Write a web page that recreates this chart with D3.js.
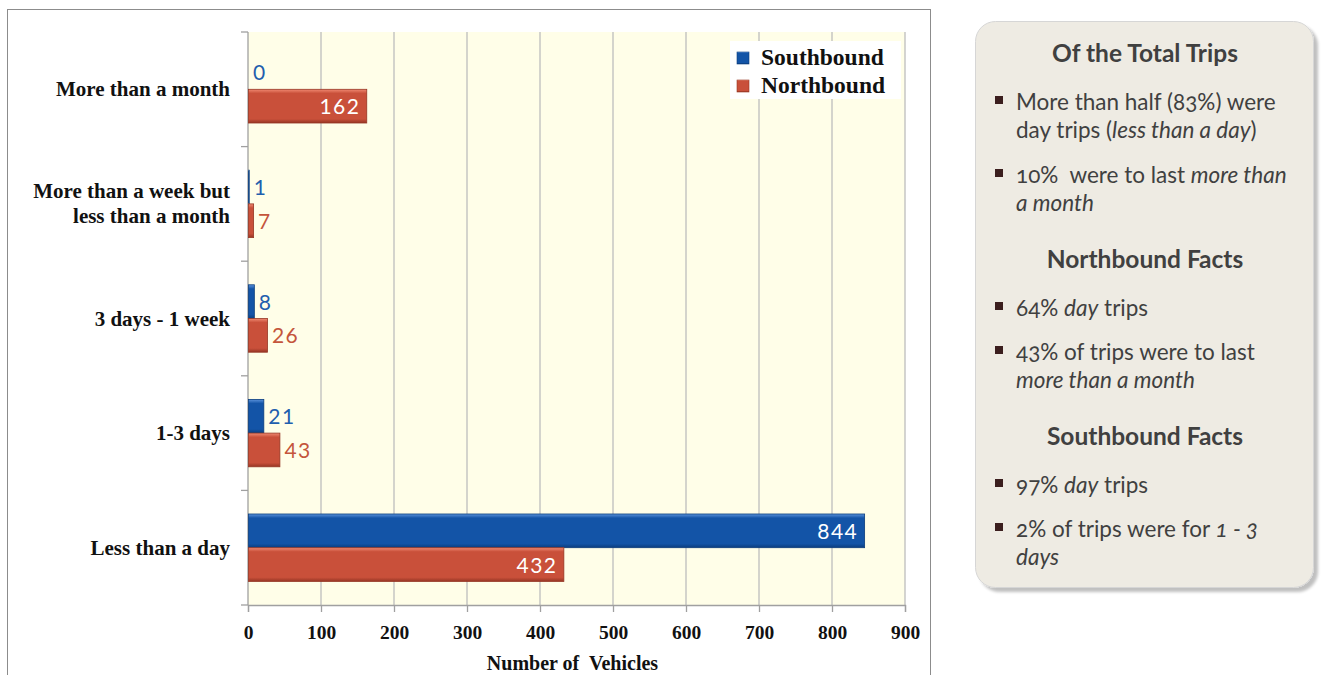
<!DOCTYPE html>
<html><head><meta charset="utf-8">
<script src="https://cdn.jsdelivr.net/npm/d3@7"></script>
<style>
body{margin:0;background:#fff;}
svg{display:block;}
</style></head>
<body>
<svg id="c" width="1326" height="675"></svg>
<script>
const categories = ["More than a month","More than a week but less than a month","3 days - 1 week","1-3 days","Less than a day"];
const categoryLines = [["More than a month"],["More than a week but","less than a month"],["3 days - 1 week"],["1-3 days"],["Less than a day"]];
const seriesNames = ["Southbound","Northbound"];
const southbound = [0,1,8,21,844];
const northbound = [162,7,26,43,432];
const xTicks = [0,100,200,300,400,500,600,700,800,900];
const axisTitle = "Number of  Vehicles";

const panelHeads = ["Of the Total Trips","Northbound Facts","Southbound Facts"];

const svg = d3.select("#c");
const defs = svg.append("defs");
const colors = {
  Southbound:{hi:"#5b93dc",main:"#1354a7",dark:"#0b3d7d",text:"#1f5fae"},
  Northbound:{hi:"#f08a72",main:"#c9503a",dark:"#963624",text:"#c4553b"}
};
seriesNames.forEach(s=>{
  const g = defs.append("linearGradient").attr("id","g"+s).attr("x1",0).attr("y1",0).attr("x2",0).attr("y2",1);
  g.append("stop").attr("offset","0%").attr("stop-color",colors[s].hi);
  g.append("stop").attr("offset","12%").attr("stop-color",colors[s].main);
  g.append("stop").attr("offset","88%").attr("stop-color",colors[s].main);
  g.append("stop").attr("offset","100%").attr("stop-color",colors[s].dark);
});
const sh = defs.append("filter").attr("id","psh").attr("x","-10%").attr("y","-10%").attr("width","130%").attr("height","130%");
sh.append("feGaussianBlur").attr("in","SourceAlpha").attr("stdDeviation",1.5);
sh.append("feOffset").attr("dx",4).attr("dy",4).attr("result","o");
sh.append("feComponentTransfer").append("feFuncA").attr("type","linear").attr("slope",0.25);
const mg = sh.append("feMerge"); mg.append("feMergeNode"); mg.append("feMergeNode").attr("in","SourceGraphic");

// outer chart frame
svg.append("rect").attr("x",7.5).attr("y",9.5).attr("width",923).attr("height",700)
  .attr("fill","#fff").attr("stroke","#8c8c8c").attr("stroke-width",1);

const x = d3.scaleLinear().domain([0,900]).range([248,905]);
const y = d3.scaleBand().domain(categories).range([32,605]).padding(0);
const ys = d3.scaleBand().domain(seriesNames).range([0,y.bandwidth()]).paddingInner(0).paddingOuter(0.7);

// plot background
svg.append("rect").attr("x",x(0)).attr("y",32).attr("width",x(900)-x(0)).attr("height",605-32).attr("fill","#fffee8");

// gridlines
svg.append("g").selectAll("line").data(xTicks.slice(1)).join("line")
  .attr("x1",d=>x(d)).attr("x2",d=>x(d)).attr("y1",32).attr("y2",605)
  .attr("stroke","#bdbdbd").attr("stroke-width",1.3);

// x axis
const xa = svg.append("g").attr("transform","translate(0,605)")
  .call(d3.axisBottom(x).tickValues(xTicks).tickSize(7).tickPadding(13));
xa.select(".domain").attr("stroke","#a0a0a0").attr("stroke-width",1.3);
xa.selectAll(".tick line").attr("stroke","#a0a0a0").attr("stroke-width",1.3);
xa.selectAll(".tick text").attr("font-family","'Liberation Serif',serif").attr("font-weight","bold")
  .attr("font-size",19.5).attr("fill","#111");

// y axis line and ticks at band edges
svg.append("line").attr("x1",x(0)).attr("x2",x(0)).attr("y1",32).attr("y2",605).attr("stroke","#a0a0a0").attr("stroke-width",1.3);
const edges = categories.map(c=>y(c)).concat([y(categories[categories.length-1])+y.bandwidth()]);
svg.append("g").selectAll("line").data(edges).join("line")
  .attr("x1",x(0)-7).attr("x2",x(0)).attr("y1",d=>d).attr("y2",d=>d)
  .attr("stroke","#a0a0a0").attr("stroke-width",1.3);

// category labels
const cl = svg.append("g").selectAll("text").data(categories).join("text")
  .attr("text-anchor","end").attr("font-family","'Liberation Serif',serif").attr("font-weight","bold")
  .attr("font-size",21).attr("fill","#111");
cl.each(function(d,i){
  const lines = categoryLines[i];
  const cy = y(d)+y.bandwidth()/2;
  const lh = 25;
  lines.forEach((t,j)=>{
    d3.select(this).append("tspan").attr("x",230)
      .attr("y",cy + (j-(lines.length-1)/2)*lh + 7).text(t);
  });
});

// bars
const data = [];
categories.forEach((c,i)=>{
  data.push({cat:c,s:"Southbound",v:southbound[i]});
  data.push({cat:c,s:"Northbound",v:northbound[i]});
});
const bg = svg.append("g");
bg.selectAll("rect").data(data.filter(d=>d.v>0)).join("rect")
  .attr("x",x(0)+0.5).attr("y",d=>y(d.cat)+ys(d.s))
  .attr("width",d=>x(d.v)-x(0)).attr("height",ys.bandwidth())
  .attr("fill",d=>"url(#g"+d.s+")").attr("stroke",d=>colors[d.s].dark).attr("stroke-width",0.8);

// value labels
svg.append("g").selectAll("text").data(data).join("text")
  .attr("font-family","Lato, 'Open Sans', sans-serif").attr("font-size",21).attr("letter-spacing",1.4)
  .attr("x",d=>d.v>100 ? x(d.v)-6 : x(d.v)+5)
  .attr("text-anchor",d=>d.v>100?"end":"start")
  .attr("y",d=>y(d.cat)+ys(d.s)+ys.bandwidth()/2+8)
  .attr("fill",d=>d.v>100?"#ffffff":colors[d.s].text)
  .text(d=>d.v);

// axis title
svg.append("text").attr("x",(x(0)+x(900))/2-4).attr("y",670).attr("text-anchor","middle")
  .attr("font-family","'Liberation Serif',serif").attr("font-weight","bold").attr("font-size",20).attr("fill","#111")
  .attr("xml:space","preserve").text(axisTitle);

// legend
const lg = svg.append("g");
lg.append("rect").attr("x",730).attr("y",41).attr("width",171).attr("height",58).attr("fill","#fff");
seriesNames.forEach((s,i)=>{
  lg.append("rect").attr("x",737).attr("y",52+i*28).attr("width",12).attr("height",12)
    .attr("fill","url(#g"+s+")").attr("stroke",colors[s].dark).attr("stroke-width",0.6);
  lg.append("text").attr("x",761).attr("y",65+i*28).attr("font-family","'Liberation Serif',serif")
    .attr("font-weight","bold").attr("font-size",23.5).attr("fill","#111").text(s);
});

// right panel
const p = svg.append("g");
p.append("rect").attr("x",975.5).attr("y",21.5).attr("width",338).attr("height",566).attr("rx",20)
  .attr("fill","#eeebe3").attr("stroke","#d6d6d6").attr("stroke-width",1).attr("filter","url(#psh)");
const pf = "Lato, 'Open Sans', sans-serif";
const headY = [54,260,437];
panelHeads.forEach((h,i)=>{
  p.append("text").attr("x",1145).attr("y",headY[i]+8).attr("text-anchor","middle")
    .attr("font-family",pf).attr("font-weight","bold").attr("font-size",24.5).attr("fill","#404040").text(h);
});
const bullets = [
  {y:102, lines:[[["More than half (83%) were",0]],[["day trips (",0],["less than a day",1],[")",0]]]},
  {y:175, lines:[[["10%  were to last ",0],["more than",1]],[["a month",1]]]},
  {y:308, lines:[[["64% ",0],["day",1],[" trips",0]]]},
  {y:352, lines:[[["43% of trips were to last",0]],[["more than a month",1]]]},
  {y:485, lines:[[["97% ",0],["day",1],[" trips",0]]]},
  {y:529, lines:[[["2% of trips were for ",0],["1 - 3",1]],[["days",1]]]}
];
bullets.forEach(b=>{
  p.append("rect").attr("x",995).attr("y",b.y-6).attr("width",8).attr("height",8).attr("fill","#3b1e1e");
  b.lines.forEach((ln,j)=>{
    const t = p.append("text").attr("x",1016).attr("y",b.y+8+j*28)
      .attr("font-family",pf).attr("font-size",22.5).attr("fill","#404040")
      .attr("xml:space","preserve").style("font-variant-numeric","oldstyle-nums");
    ln.forEach(seg=>{
      t.append("tspan").attr("font-style",seg[1]?"italic":"normal").text(seg[0]);
    });
  });
});
</script>
</body></html>
